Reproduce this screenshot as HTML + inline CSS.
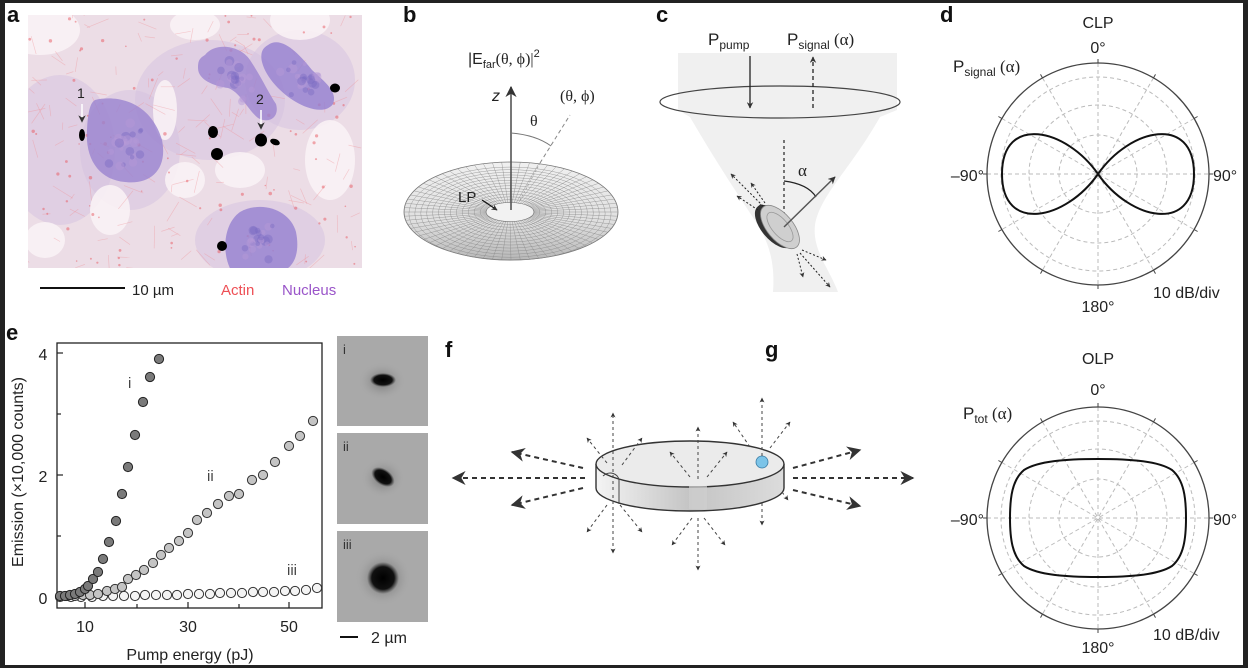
<!DOCTYPE html>
<html><head><meta charset="utf-8"><style>
html,body{margin:0;padding:0;background:#fff}
svg{display:block}
text{font-family:"Liberation Sans",Arial,sans-serif;fill:#222}
.ser{font-family:"Liberation Serif","DejaVu Serif",serif}
.lbl{font-weight:bold;font-size:22px;fill:#111}
</style></head><body>
<svg id="s" width="1248" height="668" viewBox="0 0 1248 668" xmlns="http://www.w3.org/2000/svg">
<defs>
<marker id="ah" viewBox="0 0 10 10" refX="9" refY="5" markerWidth="7" markerHeight="7" orient="auto-start-reverse"><path d="M0,0 L10,5 L0,10 L3,5z" fill="#333"/></marker>
<marker id="ahb" viewBox="0 0 10 10" refX="9" refY="5" markerWidth="5" markerHeight="5" orient="auto-start-reverse"><path d="M0,0 L10,5 L0,10 L3,5z" fill="#333"/></marker>
<linearGradient id="tor" x1="0" y1="0" x2="0" y2="1"><stop offset="0" stop-color="#f0f0f0"/><stop offset="0.6" stop-color="#e0e0e0"/><stop offset="1" stop-color="#b8b8b8"/></linearGradient>
<linearGradient id="side" x1="0" y1="0" x2="1" y2="0"><stop offset="0" stop-color="#f4f4f4"/><stop offset="0.5" stop-color="#c4c4c4"/><stop offset="1" stop-color="#dcdcdc"/></linearGradient>
<radialGradient id="blob1" cx="0.5" cy="0.5" r="0.5"><stop offset="0" stop-color="#000"/><stop offset="0.7" stop-color="#111"/><stop offset="1" stop-color="#333" stop-opacity="0"/></radialGradient>
<radialGradient id="halo" cx="0.5" cy="0.5" r="0.5"><stop offset="0.3" stop-color="#777"/><stop offset="1" stop-color="#a9a9a9" stop-opacity="0"/></radialGradient>
<clipPath id="imgclip"><rect x="28" y="15" width="334" height="253"/></clipPath>
</defs>
<rect x="0" y="0" width="1248" height="668" fill="#222"/>
<rect x="5" y="3" width="1238" height="662" fill="#fff"/>

<!-- panel a -->
<text class="lbl" x="7" y="22">a</text>
<g clip-path="url(#imgclip)">
<rect x="28" y="15" width="334" height="253" fill="#ecdde6"/>
<g id="cellbg"></g>
<path d="M95,100 C115,95 150,100 162,140 C168,170 150,185 125,182 C100,180 85,160 87,130 C88,112 90,103 95,100z" fill="#9a83cf" opacity="0.8"/>
<path d="M205,55 C215,42 240,45 250,60 C262,78 268,92 276,104 C280,118 268,124 258,118 C248,110 240,92 228,88 C214,86 198,80 198,68 C198,60 200,58 205,55z" fill="#9c85d0" opacity="0.8"/>
<path d="M268,45 C282,35 300,55 312,70 C325,82 338,92 333,104 C325,115 306,108 296,102 C282,94 266,78 262,62 C260,52 263,48 268,45z" fill="#9580cf" opacity="0.8"/>
<path d="M240,212 C262,200 290,210 296,232 C300,252 295,268 280,272 L232,272 C222,256 222,225 240,212z" fill="#9580cf" opacity="0.8"/>
<g id="mottle"></g>
<ellipse cx="82" cy="135" rx="3" ry="6" fill="#000"/>
<ellipse cx="213" cy="132" rx="5" ry="6" fill="#000"/>
<ellipse cx="217" cy="154" rx="6" ry="6" fill="#000"/>
<ellipse cx="261" cy="140" rx="6" ry="6.5" fill="#000"/>
<ellipse cx="275" cy="142" rx="5" ry="3" fill="#000" transform="rotate(20 275 142)"/>
<ellipse cx="335" cy="88" rx="5" ry="4.5" fill="#000"/>
<ellipse cx="222" cy="246" rx="5" ry="5" fill="#000"/>
<line x1="82" y1="104" x2="82" y2="122" stroke="#fff" stroke-width="1.5" marker-end="url(#ahb)"/>
<line x1="261" y1="110" x2="261" y2="129" stroke="#fff" stroke-width="1.5" marker-end="url(#ahb)"/>
</g>
<text x="77" y="98" font-size="14">1</text>
<text x="256" y="104" font-size="14">2</text>
<line x1="40" y1="288" x2="125" y2="288" stroke="#111" stroke-width="2"/>
<text x="132" y="295" font-size="15">10 µm</text>
<text x="221" y="295" font-size="15" style="fill:#ee4f55">Actin</text>
<text x="282" y="295" font-size="15" style="fill:#9a55c9">Nucleus</text>

<!-- panel b -->
<text class="lbl" x="403" y="22">b</text>
<text x="468" y="64" font-size="16">|E<tspan font-size="11" dy="4">far</tspan><tspan dy="-4" class="ser">(θ, ϕ)|</tspan><tspan font-size="11" dy="-7">2</tspan></text>
<path d="M404,212 A107,50 0 0 1 618,212 A107,48 0 0 1 404,212z" fill="url(#tor)" stroke="#777" stroke-width="0.8"/>
<g id="mesh"></g>
<ellipse cx="510" cy="212" rx="24" ry="9.5" fill="#f2f2f2" stroke="#666" stroke-width="0.6"/>
<line x1="511" y1="210" x2="511" y2="87" stroke="#555" stroke-width="1.6" marker-end="url(#ah)"/>
<text x="492" y="101" font-size="16" font-style="italic">z</text>
<line x1="540" y1="163" x2="570" y2="115" stroke="#888" stroke-width="1" stroke-dasharray="4,3"/>
<line x1="540" y1="163" x2="520" y2="200" stroke="#999" stroke-width="0.8" stroke-dasharray="2,2"/>
<path d="M511,133 Q536,135 551,146" fill="none" stroke="#777" stroke-width="1"/>
<text x="530" y="126" font-size="16" class="ser">θ</text>
<text x="560" y="101" font-size="16" class="ser">(θ, ϕ)</text>
<text x="458" y="202" font-size="15">LP</text>
<line x1="482" y1="200" x2="497" y2="210" stroke="#111" stroke-width="1.2" marker-end="url(#ahb)"/>

<!-- panel c -->
<text class="lbl" x="656" y="22">c</text>
<path d="M678,53 L897,53 L897,110 L880,117 C850,170 820,195 815,225 C812,250 830,270 838,292 L773,292 C775,265 770,245 758,225 C735,190 715,160 690,117 L678,110z" fill="#f0f0f0"/>
<ellipse cx="780" cy="102" rx="120" ry="16" fill="none" stroke="#444" stroke-width="1.2"/>
<text x="708" y="45" font-size="17">P<tspan font-size="12" dy="4">pump</tspan></text>
<text x="787" y="45" font-size="17">P<tspan font-size="12" dy="4">signal</tspan><tspan dy="-4" class="ser"> (α)</tspan></text>
<line x1="750" y1="56" x2="750" y2="108" stroke="#222" stroke-width="1.3" marker-end="url(#ahb)"/>
<line x1="813" y1="108" x2="813" y2="57" stroke="#222" stroke-width="1.3" stroke-dasharray="4,3" marker-end="url(#ahb)"/>
<line x1="784" y1="140" x2="784" y2="227" stroke="#222" stroke-width="1.2" stroke-dasharray="3,3"/>
<path d="M784,181 Q808,184 816,197" fill="none" stroke="#222" stroke-width="1.2"/>
<text x="798" y="176" font-size="17" class="ser">α</text>
<g transform="rotate(50 780 227)">
<ellipse cx="776" cy="231" rx="26" ry="13" fill="#333"/>
<rect x="750" y="227" width="52" height="4" fill="#333"/>
<ellipse cx="780" cy="227" rx="26" ry="13" fill="#cfcfcf" stroke="#888" stroke-width="0.8"/>
<ellipse cx="780" cy="227" rx="18" ry="8" fill="none" stroke="#999" stroke-width="0.8"/>
</g>
<line x1="784" y1="227" x2="835" y2="177" stroke="#555" stroke-width="1.5" marker-end="url(#ahb)"/>
<g stroke="#222" stroke-width="1" stroke-dasharray="2,2" fill="none">
<line x1="763" y1="206" x2="731" y2="174" marker-end="url(#ahb)"/>
<line x1="758" y1="210" x2="737" y2="196" marker-end="url(#ahb)"/>
<line x1="765" y1="203" x2="751" y2="183" marker-end="url(#ahb)"/>
<line x1="802" y1="250" x2="826" y2="260" marker-end="url(#ahb)"/>
<line x1="800" y1="253" x2="830" y2="287" marker-end="url(#ahb)"/>
<line x1="797" y1="254" x2="803" y2="277" marker-end="url(#ahb)"/>
</g>

<!-- panel d -->
<text class="lbl" x="940" y="22">d</text>
<text x="1098" y="28" font-size="16" text-anchor="middle">CLP</text>
<text x="1098" y="53" font-size="16" text-anchor="middle">0°</text>
<text x="953" y="72" font-size="17">P<tspan font-size="12" dy="4">signal</tspan><tspan dy="-4" class="ser"> (α)</tspan></text>
<g id="polard"></g>
<path d="M1098,174 C1130,128 1194,114 1194,174 C1194,234 1130,220 1098,174 C1066,128 1002,114 1002,174 C1002,234 1066,220 1098,174z" fill="none" stroke="#111" stroke-width="2"/>
<text x="984" y="181" font-size="16" text-anchor="end">–90°</text>
<text x="1213" y="181" font-size="16">90°</text>
<text x="1098" y="312" font-size="16" text-anchor="middle">180°</text>
<text x="1153" y="298" font-size="16">10 dB/div</text>

<!-- panel e -->
<text class="lbl" x="6" y="340">e</text>
<rect x="57" y="343" width="265" height="265" fill="none" stroke="#222" stroke-width="1.3"/>
<g stroke="#222" stroke-width="1.2">
<line x1="57" y1="353" x2="63" y2="353"/><line x1="57" y1="414" x2="61" y2="414"/><line x1="57" y1="475" x2="63" y2="475"/><line x1="57" y1="536" x2="61" y2="536"/><line x1="57" y1="597" x2="63" y2="597"/>
<line x1="85" y1="608" x2="85" y2="602"/><line x1="137" y1="608" x2="137" y2="604"/><line x1="188" y1="608" x2="188" y2="602"/><line x1="239" y1="608" x2="239" y2="604"/><line x1="289" y1="608" x2="289" y2="602"/>
</g>
<text x="43" y="360" font-size="16" text-anchor="middle">4</text>
<text x="43" y="482" font-size="16" text-anchor="middle">2</text>
<text x="43" y="604" font-size="16" text-anchor="middle">0</text>
<text x="85" y="632" font-size="16" text-anchor="middle">10</text>
<text x="188" y="632" font-size="16" text-anchor="middle">30</text>
<text x="289" y="632" font-size="16" text-anchor="middle">50</text>
<text x="190" y="660" font-size="16" text-anchor="middle">Pump energy (pJ)</text>
<text transform="translate(23 472) rotate(-90)" font-size="16" text-anchor="middle">Emission (×10,000 counts)</text>
<g id="pts"></g>
<text x="128" y="388" font-size="15" style="fill:#444">i</text>
<text x="207" y="481" font-size="15" style="fill:#444">ii</text>
<text x="287" y="575" font-size="15" style="fill:#444">iii</text>
<rect x="337" y="336" width="91" height="90" fill="#a9a9a9"/>
<rect x="337" y="433" width="91" height="91" fill="#a9a9a9"/>
<rect x="337" y="531" width="91" height="91" fill="#a9a9a9"/>
<ellipse cx="382" cy="381" rx="24" ry="19" fill="url(#halo)" opacity="0.6"/>
<ellipse cx="383" cy="380" rx="13" ry="7" fill="url(#blob1)"/>
<ellipse cx="383" cy="478" rx="22" ry="20" fill="url(#halo)" opacity="0.6"/>
<ellipse cx="383" cy="477" rx="13" ry="8" fill="url(#blob1)" transform="rotate(35 383 477)"/>
<circle cx="383" cy="578" r="28" fill="url(#halo)" opacity="0.9"/>
<circle cx="383" cy="578" r="16" fill="url(#blob1)"/>
<text x="343" y="354" font-size="13" style="fill:#333">i</text>
<text x="343" y="451" font-size="13" style="fill:#333">ii</text>
<text x="343" y="549" font-size="13" style="fill:#333">iii</text>
<line x1="340" y1="637" x2="358" y2="637" stroke="#111" stroke-width="2"/>
<text x="371" y="643" font-size="16">2 µm</text>

<!-- panel f -->
<text class="lbl" x="445" y="357">f</text>
<g stroke="#333" stroke-width="2" stroke-dasharray="5,4" fill="none">
<line x1="585" y1="478" x2="453" y2="478" marker-end="url(#ah)"/>
<line x1="583" y1="468" x2="512" y2="452" marker-end="url(#ah)"/>
<line x1="583" y1="488" x2="512" y2="505" marker-end="url(#ah)"/>
<line x1="793" y1="478" x2="913" y2="478" marker-end="url(#ah)"/>
<line x1="793" y1="468" x2="860" y2="450" marker-end="url(#ah)"/>
<line x1="793" y1="490" x2="860" y2="506" marker-end="url(#ah)"/>
</g>
<path d="M596,464 L596,488 A94,23 0 0 0 784,488 L784,464" fill="url(#side)" stroke="#333" stroke-width="1.4"/>
<ellipse cx="690" cy="464" rx="94" ry="23" fill="#ebebeb" stroke="#333" stroke-width="1.4"/>
<path d="M603,476 C610,470 618,474 619,480 L619,504" fill="none" stroke="#444" stroke-width="1"/>
<rect x="689" y="486" width="18" height="23" fill="#cfcfcf" opacity="0.7"/>
<circle cx="762" cy="462" r="6" fill="#7cc4e8" stroke="#3a7ca5" stroke-width="0.8"/>
<g stroke="#444" stroke-width="1" stroke-dasharray="3,3" fill="none">
<line x1="613" y1="490" x2="613" y2="413" marker-end="url(#ahb)"/>
<line x1="613" y1="495" x2="613" y2="553" marker-end="url(#ahb)"/>
<line x1="607" y1="463" x2="587" y2="438" marker-end="url(#ahb)"/>
<line x1="622" y1="465" x2="642" y2="438" marker-end="url(#ahb)"/>
<line x1="607" y1="505" x2="587" y2="532" marker-end="url(#ahb)"/>
<line x1="620" y1="505" x2="642" y2="532" marker-end="url(#ahb)"/>
<line x1="698" y1="479" x2="698" y2="427" marker-end="url(#ahb)"/>
<line x1="690" y1="477" x2="670" y2="452" marker-end="url(#ahb)"/>
<line x1="707" y1="477" x2="727" y2="452" marker-end="url(#ahb)"/>
<line x1="698" y1="518" x2="698" y2="570" marker-end="url(#ahb)"/>
<line x1="692" y1="518" x2="672" y2="545" marker-end="url(#ahb)"/>
<line x1="704" y1="518" x2="725" y2="545" marker-end="url(#ahb)"/>
<line x1="762" y1="456" x2="762" y2="398" marker-end="url(#ahb)"/>
<line x1="750" y1="447" x2="733" y2="422" marker-end="url(#ahb)"/>
<line x1="770" y1="448" x2="790" y2="422" marker-end="url(#ahb)"/>
<line x1="762" y1="503" x2="762" y2="525" marker-end="url(#ahb)"/>
<line x1="782" y1="492" x2="788" y2="500" marker-end="url(#ahb)"/>
</g>

<!-- panel g -->
<text class="lbl" x="765" y="357">g</text>
<text x="1098" y="364" font-size="16" text-anchor="middle">OLP</text>
<text x="1098" y="395" font-size="16" text-anchor="middle">0°</text>
<text x="963" y="419" font-size="17">P<tspan font-size="12" dy="4">tot</tspan><tspan dy="-4" class="ser"> (α)</tspan></text>
<g id="polarg"></g>
<path d="M1098,459 C1130,459 1158,461 1172,470 C1184,480 1186,498 1186,518 C1186,538 1184,556 1172,566 C1158,575 1130,577 1098,577 C1066,577 1038,575 1024,566 C1012,556 1010,538 1010,518 C1010,498 1012,480 1024,470 C1038,461 1066,459 1098,459z" fill="none" stroke="#111" stroke-width="2"/>
<text x="984" y="525" font-size="16" text-anchor="end">–90°</text>
<text x="1213" y="525" font-size="16">90°</text>
<text x="1098" y="653" font-size="16" text-anchor="middle">180°</text>
<text x="1153" y="640" font-size="16">10 dB/div</text>
</svg>
<script>
var NS="http://www.w3.org/2000/svg";
function el(p,t,a){var e=document.createElementNS(NS,t);for(var k in a)e.setAttribute(k,a[k]);p.appendChild(e);return e;}
function polar(id,cx,cy){var g=document.getElementById(id);
[39,69,97].forEach(function(r){el(g,"circle",{cx:cx,cy:cy,r:r,fill:"none",stroke:"#bbb","stroke-width":1,"stroke-dasharray":"4,3"});});
for(var a=0;a<180;a+=30){var t=a*Math.PI/180;el(g,"line",{x1:cx-111*Math.cos(t),y1:cy-111*Math.sin(t),x2:cx+111*Math.cos(t),y2:cy+111*Math.sin(t),stroke:"#bbb","stroke-width":1,"stroke-dasharray":"4,3"});}
el(g,"circle",{cx:cx,cy:cy,r:111,fill:"none",stroke:"#444","stroke-width":1.3});
for(var a=0;a<360;a+=30){var t=a*Math.PI/180;el(g,"line",{x1:cx+111*Math.cos(t),y1:cy+111*Math.sin(t),x2:cx+115*Math.cos(t),y2:cy+115*Math.sin(t),stroke:"#444","stroke-width":1});}
}
polar("polard",1098,174);polar("polarg",1098,518);
var m=document.getElementById("mesh");
for(var k=0;k<72;k++){var t=k*5*Math.PI/180;var c=Math.cos(t),s=Math.sin(t);
el(m,"line",{x1:510+24*c,y1:212+9.5*s,x2:511+107*c,y2:212+(s<0?50:48)*s,stroke:"#888","stroke-width":0.4});}
for(var i=1;i<14;i++){var f=i/14;el(m,"ellipse",{cx:510,cy:212+(f*f)*2,rx:24+83*f,ry:9.5+40*f,fill:"none",stroke:"#888","stroke-width":0.4});}
var P=document.getElementById("pts");
var iii=[[60,597],[71,597],[81,597],[92,597],[103,596],[113,596],[124,596],[135,596],[145,595],[156,595],[167,595],[177,595],[188,594],[199,594],[210,594],[220,593],[231,593],[242,593],[253,592],[263,592],[274,592],[285,591],[295,591],[306,590],[317,588]];
var ii=[[67,596],[75,596],[83,595],[90,595],[98,594],[107,591],[115,589],[122,587],[128,579],[136,575],[144,570],[153,563],[161,555],[169,548],[179,541],[188,533],[197,520],[207,513],[218,504],[229,496],[239,494],[252,480],[263,475],[275,462],[289,446],[300,436],[313,421]];
var i1=[[60,596],[65,596],[70,595],[75,594],[80,592],[85,589],[88,586],[93,579],[98,572],[103,559],[109,542],[116,521],[122,494],[128,467],[135,435],[143,402],[150,377],[159,359]];
iii.forEach(function(p){el(P,"circle",{cx:p[0],cy:p[1],r:4.6,fill:"#f4f4f4",stroke:"#333","stroke-width":1});});
ii.forEach(function(p){el(P,"circle",{cx:p[0],cy:p[1],r:4.6,fill:"#c4c4c4",stroke:"#333","stroke-width":1});});
i1.forEach(function(p){el(P,"circle",{cx:p[0],cy:p[1],r:4.6,fill:"#7a7a7a",stroke:"#222","stroke-width":1});});
var C=document.getElementById("cellbg");var seed=7;function rnd(){seed=(seed*9301+49297)%233280;return seed/233280;}
[[60,150,55,75],[210,100,75,60],[300,80,55,50],[260,240,65,40],[130,150,50,60]].forEach(function(w){el(C,"ellipse",{cx:w[0],cy:w[1],rx:w[2],ry:w[3],fill:"#d4c2e0",opacity:0.5});});
[[40,30,40,25],[300,20,30,20],[330,160,25,40],[110,210,20,25],[185,180,20,18],[45,240,20,18],[240,170,25,18],[195,25,25,15],[165,110,12,30]].forEach(function(w){el(C,"ellipse",{cx:w[0],cy:w[1],rx:w[2],ry:w[3],fill:"#faf3f6",opacity:0.85});});
for(var k=0;k<140;k++){var x=28+rnd()*334,y=15+rnd()*253,a=rnd()*6.28,l=6+rnd()*18;
el(C,"line",{x1:x,y1:y,x2:x+l*Math.cos(a),y2:y+l*Math.sin(a),stroke:"#ef8f95","stroke-width":0.7,opacity:0.4});}
for(var k=0;k<100;k++){el(C,"circle",{cx:28+rnd()*334,cy:15+rnd()*253,r:0.7+rnd()*1.1,fill:"#e8575f",opacity:0.5});}
var M=document.getElementById("mottle");
[[123,143,34,36],[235,80,30,30],[300,78,28,25],[260,240,30,28]].forEach(function(n){for(var k=0;k<25;k++){var a=rnd()*6.28,r=rnd();el(M,"circle",{cx:n[0]+n[2]*r*Math.cos(a)*0.8,cy:n[1]+n[3]*r*Math.sin(a)*0.8,r:2+rnd()*3,fill:rnd()<0.5?"#7d6cc4":"#b59ad6",opacity:0.45});}});
</script>
</body></html>
